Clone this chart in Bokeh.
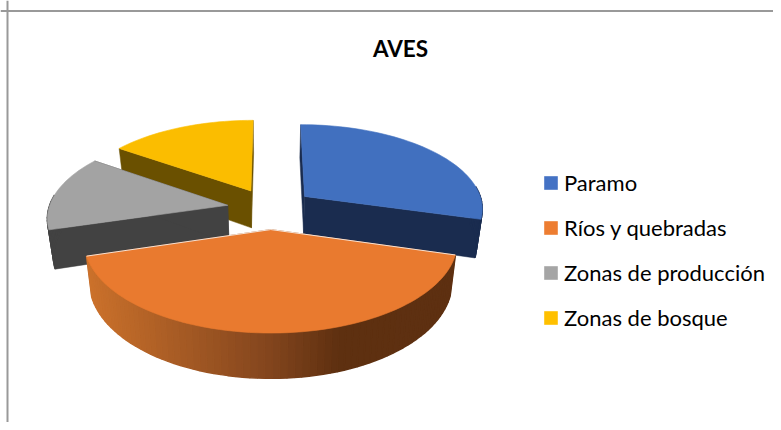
import numpy as np
from bokeh.plotting import figure
from bokeh.models import Range1d, Legend, LegendItem, Span
from bokeh.core.properties import value
from bokeh.embed import file_html
from bokeh.resources import INLINE

# data
title = "AVES"
categories = ["Paramo", "Ríos y quebradas", "Zonas de producción", "Zonas de bosque"]
shares = [29.4, 41.0, 14.3, 15.3]
top_colors = ["#4170BF", "#E97A2F", "#A3A3A3", "#FBBD00"]
wall_colors = ["#1A2C4F", "#5E3112", "#424242", "#6A5000"]
legend_colors = ["#4472C4", "#ED7D31", "#A5A5A5", "#FFC000"]
draw_order = [3, 0, 2, 1]

# 3D projection parameters (canvas pixels)
W, H = 773, 422
CX, CY = 270, 208
RX, RY, PERSP, EXPL, DEPTH, TAPER = 179, 84, 0.13, 0.243, 38, 0.972


def project(u, v, lower=False):
    k = 1 / (1 + PERSP * v)
    x, y = RX * u * k, -RY * v * k
    if lower:
        return CX + x * TAPER, CY + y + DEPTH * k
    return CX + x, CY + y


def orange_shade(t):
    stops_t = [0.0, 0.5, 0.70, 1.0]
    stops = np.array([[0xCC, 0x72, 0x2C], [0x84, 0x46, 0x1E], [0x5E, 0x30, 0x10], [0x5E, 0x31, 0x12]])
    rgb = [int(np.interp(t, stops_t, stops[:, i])) for i in range(3)]
    return "#%02X%02X%02X" % tuple(rgb)


p = figure(width=W, height=H, x_range=Range1d(0, W), y_range=Range1d(H, 0),
           toolbar_location=None, output_backend="svg",
           min_border=0, outline_line_color=None, background_fill_color="white",
           border_fill_color="white")
p.axis.visible = False
p.grid.visible = False

# slices
edges = np.cumsum([0] + shares) / sum(shares) * 2 * np.pi
for i in draw_order:
    a0, a1 = edges[i], edges[i + 1]
    mid = (a0 + a1) / 2
    eu, ev = EXPL * np.sin(mid), EXPL * np.cos(mid)
    angs = np.linspace(a0, a1, max(8, int(np.degrees(a1 - a0) / 2)))
    us, vs = eu + np.sin(angs), ev + np.cos(angs)
    xt, yt = project(us, vs)
    xb, yb = project(us, vs, True)
    ax, ay = project(np.array([eu]), np.array([ev]))
    bx, by = project(np.array([eu]), np.array([ev]), True)
    # radial walls
    for j in (0, -1):
        p.patch([ax[0], xt[j], xb[j], bx[0]], [ay[0], yt[j], yb[j], by[0]],
                fill_color=wall_colors[i], line_color=wall_colors[i], line_width=0.5)
    # outer wall (front-facing part only)
    for j in range(len(angs) - 1):
        if np.cos(angs[j]) > 0.1 and np.cos(angs[j + 1]) > 0.1:
            continue
        if i == 1:
            col = orange_shade((xt[j] - xt.min()) / (xt.max() - xt.min()))
        else:
            col = wall_colors[i]
        p.patch([xt[j], xt[j + 1], xb[j + 1], xb[j]], [yt[j], yt[j + 1], yb[j + 1], yb[j]],
                fill_color=col, line_color=col, line_width=1.5)
    # top face
    p.patch(np.r_[ax, xt], np.r_[ay, yt], fill_color=top_colors[i],
            line_color=top_colors[i], line_width=0.6)
    if i == 1:
        p.line([xt[0], ax[0], xt[-1]], [yt[0], ay[0], yt[-1]], line_color="white", line_width=1, line_alpha=0.8)

# chart frame
p.add_layout(Span(location=10.5, dimension="width", line_color="#999999", line_width=2))
p.add_layout(Span(location=7, dimension="height", line_color="#999999", line_width=2))

# title
p.text([400], [48], text=[title], text_align="center", text_baseline="middle",
       text_font=value("Lato"), text_font_style="bold", text_font_size="22.5px", text_color="#000000")

# legend
items = []
for name, col in zip(categories, legend_colors):
    r = p.quad(left=[np.nan], right=[np.nan], top=[np.nan], bottom=[np.nan], fill_color=col, line_color=None)
    items.append(LegendItem(label=name, renderers=[r]))
legend = Legend(items=items, location=(542, 91), orientation="vertical",
                glyph_width=17, glyph_height=17, label_standoff=5, spacing=18,
                padding=0, margin=0, border_line_color=None, background_fill_alpha=0,
                label_text_font="Lato", label_text_font_size="22px", label_text_color="#000000",
                label_height=27)
p.add_layout(legend, "center")

open("out.html", "w").write(file_html(p, INLINE))
